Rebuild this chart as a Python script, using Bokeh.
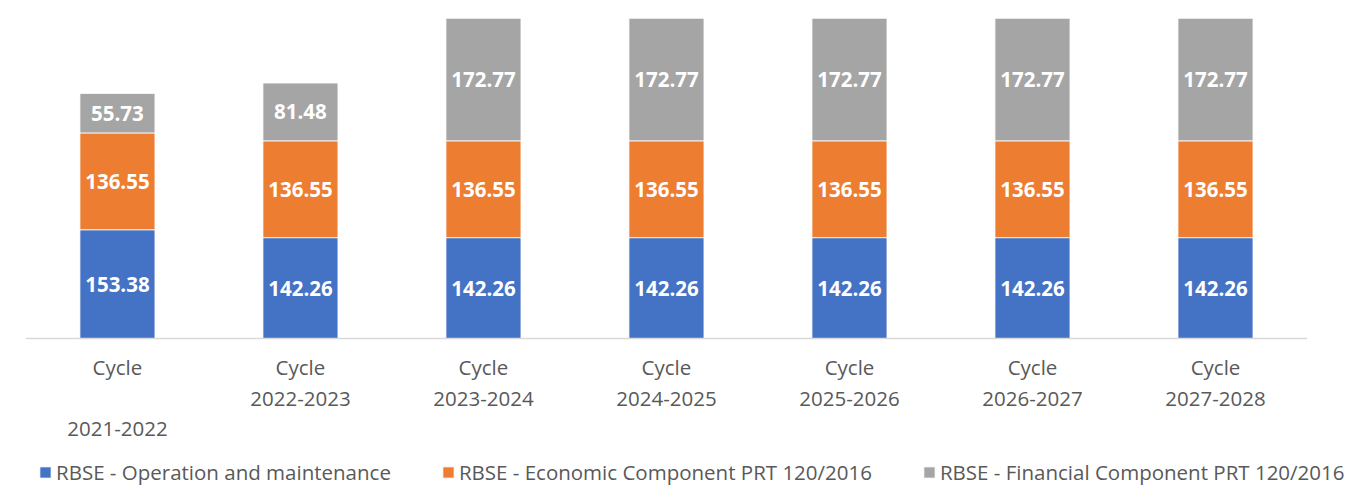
from bokeh.plotting import figure
from bokeh.models import ColumnDataSource, LabelSet, Range1d
from bokeh.core.properties import value
from bokeh.embed import file_html
from bokeh.resources import INLINE
import numpy as np

cycles = ["Cycle\n\n2021-2022", "Cycle\n2022-2023", "Cycle\n2023-2024", "Cycle\n2024-2025",
          "Cycle\n2025-2026", "Cycle\n2026-2027", "Cycle\n2027-2028"]
operation = [153.38, 142.26, 142.26, 142.26, 142.26, 142.26, 142.26]
economic = [136.55, 136.55, 136.55, 136.55, 136.55, 136.55, 136.55]
financial = [55.73, 81.48, 172.77, 172.77, 172.77, 172.77, 172.77]
series_names = ["RBSE - Operation and maintenance",
                "RBSE - Economic Component PRT 120/2016",
                "RBSE - Financial Component PRT 120/2016"]
colors = ["#4472C4", "#ED7D31", "#A5A5A5"]

FONT = "Open Sans"
n = len(cycles)
xpos = np.arange(n)
keys = ["op", "ec", "fi"]
source = ColumnDataSource(dict(x=xpos, op=operation, ec=economic, fi=financial))

p = figure(x_range=Range1d(-0.639, 6.776), y_range=Range1d(-208.7, 476.7),
           width=1357, height=486, output_backend="svg", toolbar_location=None,
           x_axis_location=None, y_axis_location=None,
           min_border_left=0, min_border_right=0, min_border_top=0, min_border_bottom=0)

p.vbar_stack(keys, x="x", width=0.41, color=colors, source=source,
             line_color="white", line_width=0.8, legend_label=series_names)

# category baseline
p.segment(x0=[xpos[0] - 0.5], x1=[xpos[-1] + 0.5], y0=[0], y1=[0],
          line_color="#D9D9D9", line_width=1.5)

# category labels (each line centred)
lx, ly, lt, loff = [], [], [], []
for i, c in enumerate(cycles):
    for j, line in enumerate(c.split("\n")):
        if line:
            lx.append(xpos[i]); ly.append(0); lt.append(line)
            loff.append(-14 if j == 0 else -53 - 30 * (j - 1))
cat_src = ColumnDataSource(dict(x=lx, y=ly, t=lt, off=loff))
p.add_layout(LabelSet(x="x", y="y", text="t", source=cat_src, y_offset="off",
                      text_color="#595959", text_font=value(FONT), text_font_size="20.5px",
                      text_align="center", text_baseline="top"))

# segment value labels
op = np.array(operation); ec = np.array(economic); fi = np.array(financial)
lab = ColumnDataSource(dict(
    x=list(xpos) * 3,
    y=list(op / 2) + list(op + ec / 2) + list(op + ec + fi / 2),
    t=[f"{v:.2f}" for v in operation + economic + financial],
))
p.add_layout(LabelSet(x="x", y="y", text="t", source=lab, text_color="white",
                      text_font=value(FONT), text_font_style="bold", text_font_size="20.5px",
                      text_align="center", text_baseline="middle"))

p.xgrid.visible = False
p.ygrid.visible = False
p.outline_line_color = None

leg = p.legend[0]
leg.orientation = "horizontal"
leg.label_text_font = FONT
leg.label_text_font_size = "20.5px"
leg.label_text_color = "#595959"
leg.glyph_width = 14
leg.glyph_height = 14
leg.label_standoff = 4
leg.spacing = 50
leg.padding = 0
leg.margin = 0
leg.border_line_alpha = 0
leg.background_fill_alpha = 0
leg.location = (38, 0)

open("out.html", "w").write(file_html(p, INLINE))
